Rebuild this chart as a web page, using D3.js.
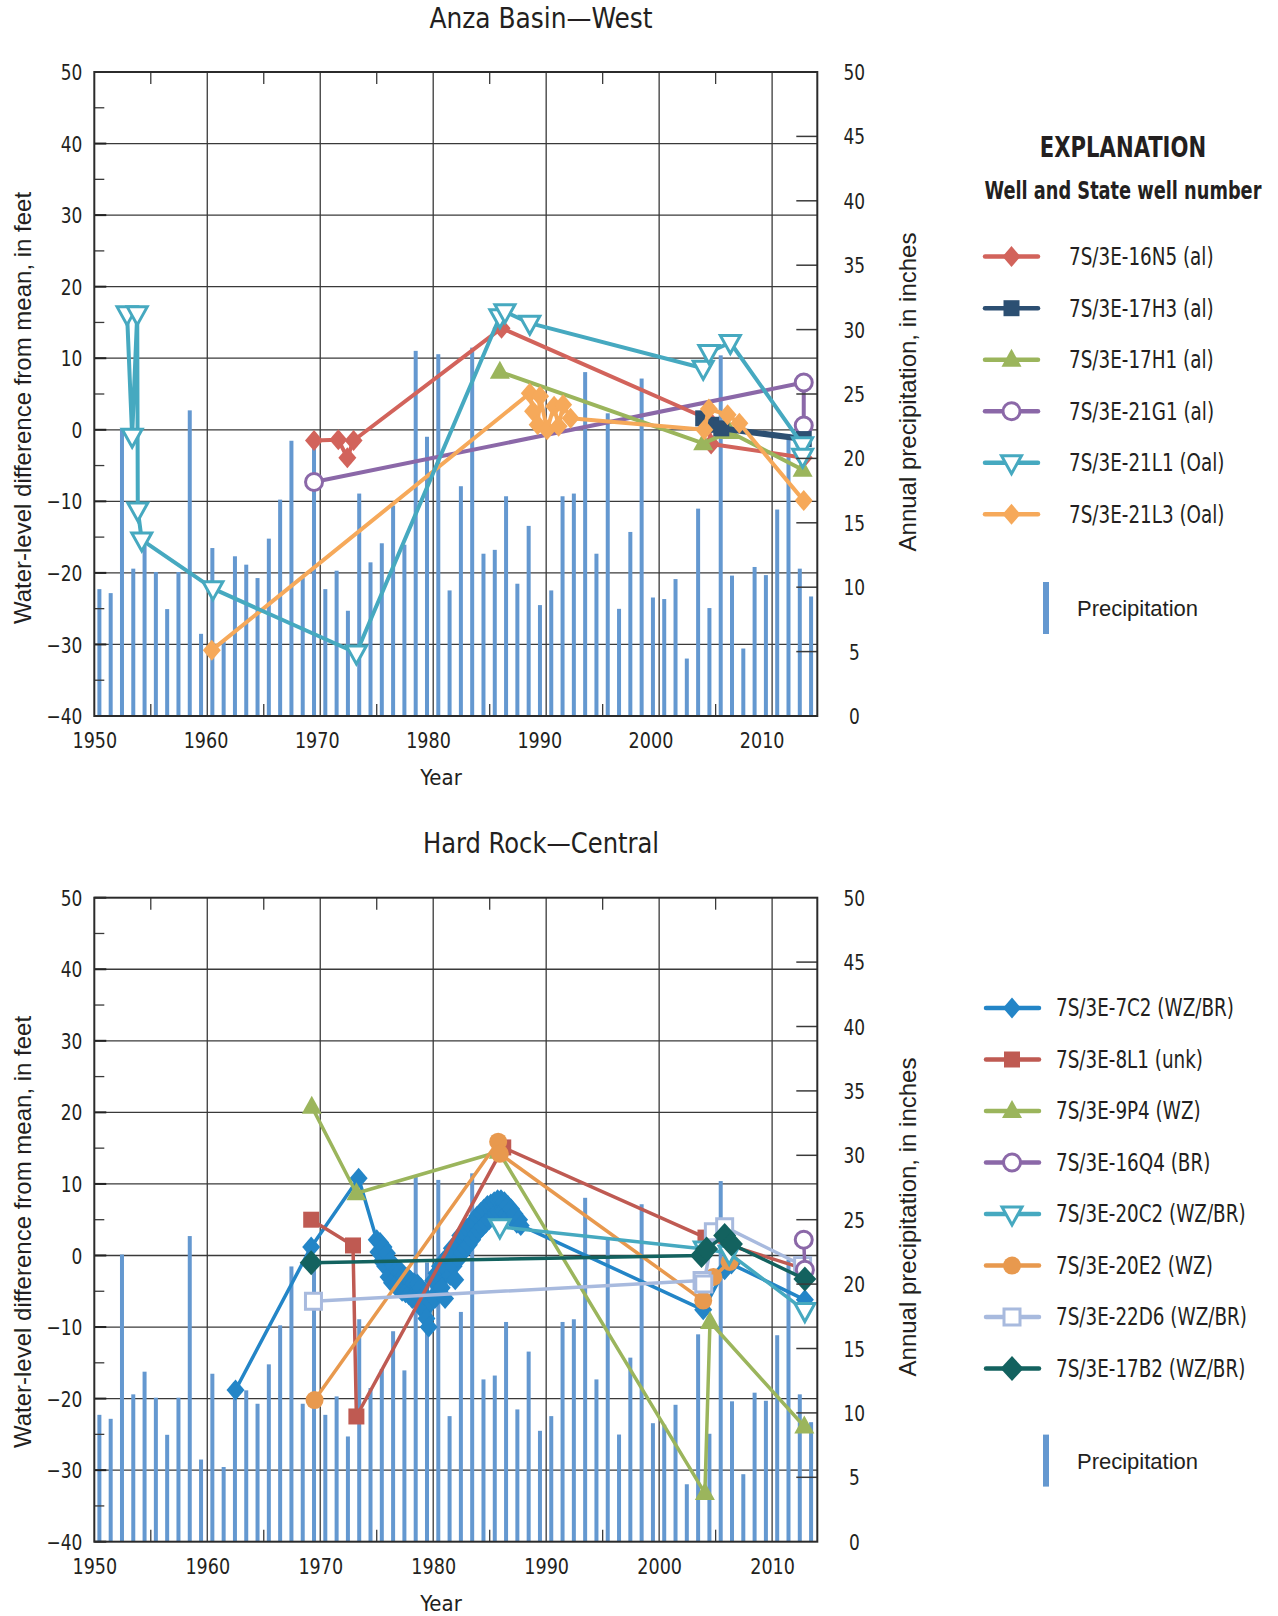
<!DOCTYPE html>
<html><head><meta charset="utf-8">
<script src="https://cdn.jsdelivr.net/npm/d3@7"></script>
<style>
body{margin:0;background:#fff;}
svg{display:block;}
.nar{font-family:'Liberation Sans Narrow','DejaVu Sans Condensed',sans-serif;}
.reg{font-family:'Liberation Sans',Arial,sans-serif;}
</style></head><body>
<svg id="chart" width="1278" height="1616"></svg>
<script>
// ---------------- DATA ----------------
const precipYears = [1950,1951,1952,1953,1954,1955,1956,1957,1958,1959,1960,1961,1962,1963,1964,1965,1966,1967,1968,1969,1970,1971,1972,1973,1974,1975,1976,1977,1978,1979,1980,1981,1982,1983,1984,1985,1986,1987,1988,1989,1990,1991,1992,1993,1994,1995,1996,1997,1998,1999,2000,2001,2002,2003,2004,2005,2006,2007,2008,2009,2010,2011,2012,2013];
const precipInches = [9.85,9.54,22.3,11.44,13.2,11.18,8.3,11.18,23.73,6.38,13.04,5.8,12.4,11.75,10.71,13.77,16.8,21.37,10.71,21.5,9.85,11.28,8.17,17.27,11.93,13.41,16.34,13.3,28.35,21.68,28.09,9.75,17.84,28.6,12.6,12.9,17.06,10.27,14.76,8.61,9.75,17.06,17.27,26.7,12.6,23.5,8.32,14.29,26.2,9.2,9.08,10.63,4.46,16.1,8.38,28.0,10.9,5.24,11.57,10.94,16.03,21.9,11.44,9.28];

const yearTicks = [1950,1960,1970,1980,1990,2000,2010];
const feetTicks = [-40,-30,-20,-10,0,10,20,30,40,50];
const inchTicks = [0,5,10,15,20,25,30,35,40,45,50];

// Anza Basin—West wells [year, feet]
const w16N5 = [[1969.45,-1.5],[1971.6,-1.4],[1972.4,-3.9],[1972.95,-1.5],[1986.05,14.2],[2004.3,1.5],[2004.6,-2.0],[2012.8,-3.9]];
const w17H3 = [[2003.9,1.6],[2004.6,0.7],[2005.5,0.2],[2012.8,-1.3]];
const w17H1 = [[1985.9,8.1],[2003.9,-1.9],[2006.25,-0.3],[2012.7,-5.6]];
const w21G1 = [[1969.45,-7.3],[2012.8,6.6],[2012.8,0.6]];
const w21L1 = [[1952.9,16.2],[1953.35,-0.9],[1953.8,16.2],[1953.85,-11.2],[1954.2,-15.4],[1960.5,-22.2],[1973.2,-31.2],[1985.9,15.8],[1986.35,16.5],[1988.55,14.9],[2003.9,8.6],[2004.4,10.8],[2006.3,12.2],[2012.7,-2.1],[2012.7,-3.7]];
const w21L3 = [[1960.4,-30.8],[1988.55,5.1],[1988.84,2.6],[1989.25,0.7],[1989.46,4.7],[1990.08,0.0],[1990.7,3.3],[1991.1,0.5],[1991.5,3.5],[1992.16,1.6],[2004.0,0.0],[2004.4,2.9],[2006.06,2.1],[2007.1,0.9],[2012.8,-9.9]];

// Hard Rock—Central wells
const w7C2 = [[1962.5,-18.8],[1969.2,1.2],[1973.4,10.8],
 [1975.0,2.2],[1975.15,0.5],[1975.3,1.8],[1975.45,-0.8],[1975.6,1.2],[1975.75,-1.5],[1975.9,0.3],[1976.05,-3.0],[1976.2,-0.8],[1976.35,-3.8],[1976.5,-1.5],[1976.65,-4.2],[1976.8,-2.0],[1976.95,-4.5],[1977.1,-2.2],[1977.25,-5.0],[1977.4,-2.8],[1977.55,-5.2],[1977.7,-3.0],[1977.85,-5.5],[1978.0,-3.5],[1978.15,-6.0],[1978.3,-3.8],[1978.45,-6.2],[1978.6,-4.0],[1978.75,-6.5],[1978.9,-4.5],[1979.05,-7.5],[1979.2,-5.5],[1979.4,-8.8],[1979.6,-10.0],[1979.8,-6.5],[1980.0,-3.5],[1980.15,-6.0],[1980.3,-2.5],[1980.45,-5.0],[1980.6,-1.5],[1980.75,-4.5],[1980.9,-0.8],[1981.05,-6.0],[1981.2,-2.0],[1981.35,0.0],[1981.5,-2.8],[1981.65,1.0],[1981.8,-1.5],[1981.95,-3.4],[1982.1,1.5],[1982.25,-0.5],[1982.4,2.8],[1982.55,0.3],[1982.7,3.2],[1982.85,1.0],[1983.0,3.8],[1983.15,1.5],[1983.3,4.2],[1983.45,2.2],[1983.6,4.8],[1983.75,3.0],[1983.9,5.5],[1984.05,3.5],[1984.2,6.0],[1984.35,4.0],[1984.5,6.5],[1984.65,4.5],[1984.8,7.0],[1984.95,5.0],[1985.1,7.2],[1985.25,5.5],[1985.4,7.5],[1985.55,5.8],[1985.7,7.8],[1985.85,6.0],[1986.0,7.8],[1986.15,6.2],[1986.3,7.5],[1986.45,5.8],[1986.6,7.0],[1986.75,5.5],[1986.9,6.5],[1987.05,5.0],[1987.2,5.8],[1987.4,4.5],[1987.6,5.0],[1987.75,4.2],
 [2003.9,-7.6],[2005.8,-2.0],[2006.4,-1.2],[2012.9,-6.2]];
const w8L1 = [[1969.2,5.0],[1972.9,1.4],[1973.2,-22.5],[1986.2,15.1],[2004.1,2.5],[2012.7,-1.8]];
const w9P4 = [[1969.25,20.8],[1973.2,8.7],[1985.8,14.5],[2004.05,-33.2],[2004.5,-9.3],[2012.85,-23.9]];
const w16Q4 = [[2012.8,2.2],[2012.9,-2.0]];
const w20C2 = [[1985.9,4.0],[2004.0,0.9],[2006.2,0.3],[2012.9,-7.7]];
const w20E2 = [[1969.5,-20.2],[1985.75,15.9],[1985.9,14.2],[2003.9,-6.3],[2004.8,-3.0],[2006.25,-0.9]];
const w22D6 = [[1969.4,-6.4],[2003.8,-3.5],[2003.95,-4.0],[2004.8,3.3],[2005.8,4.0],[2012.7,-1.4]];
const w17B2 = [[1969.2,-1.0],[2003.75,0.0],[2004.2,0.9],[2005.8,2.8],[2006.4,1.6],[2012.9,-3.3]];

const topWells = [
  {name:"7S/3E-16N5 (al)", data:w16N5, color:"#d2635b", mk:"diamond", lw:4},
  {name:"7S/3E-17H3 (al)", data:w17H3, color:"#2c4f72", mk:"square", lw:6},
  {name:"7S/3E-17H1 (al)", data:w17H1, color:"#9bb55c", mk:"triUp", lw:4},
  {name:"7S/3E-21G1 (al)", data:w21G1, color:"#8b68a8", mk:"circleOpen", lw:4},
  {name:"7S/3E-21L1 (Oal)", data:w21L1, color:"#46a9c0", mk:"triDown", lw:4},
  {name:"7S/3E-21L3 (Oal)", data:w21L3, color:"#f6a95a", mk:"diamond", lw:4}
];
const topDrawOrder = [3,0,2,1,5,4];

const botWells = [
  {name:"7S/3E-7C2 (WZ/BR)", data:w7C2, color:"#2385c7", mk:"diamond", lw:3.5},
  {name:"7S/3E-8L1 (unk)", data:w8L1, color:"#bf5a52", mk:"square", lw:3.5},
  {name:"7S/3E-9P4 (WZ)", data:w9P4, color:"#9bb55c", mk:"triUp", lw:3.5},
  {name:"7S/3E-16Q4 (BR)", data:w16Q4, color:"#8b68a8", mk:"circleOpen", lw:3.5},
  {name:"7S/3E-20C2 (WZ/BR)", data:w20C2, color:"#46a9c0", mk:"triDown", lw:3.5},
  {name:"7S/3E-20E2 (WZ)", data:w20E2, color:"#e8994e", mk:"circle", lw:3.5},
  {name:"7S/3E-22D6 (WZ/BR)", data:w22D6, color:"#a8bade", mk:"squareOpen", lw:3.5},
  {name:"7S/3E-17B2 (WZ/BR)", data:w17B2, color:"#13625f", mk:"diamondBig", lw:3.5}
];
const botDrawOrder = [0,2,1,5,4,6,3,7];

// ---------------- DRAWING ----------------
const svg = d3.select("#chart");
const BAR = "#6498d0";
const INK = "#231f20";
const fmt = d => d < 0 ? "\u2212" + (-d) : String(d);

// squeeze text horizontally (about its anchor x) to imitate the condensed face of the original
function condense(sel, f){
  sel.each(function(){
    const x0 = +(this.getAttribute("x") || 0);
    const y0 = +(this.getAttribute("y") || 0);
    const prev = this.getAttribute("transform") || "";
    this.setAttribute("transform", `${prev} translate(${x0},${y0}) scale(${f},1) translate(${-x0},${-y0})`.trim());
  });
}

function markerPath(t){
  switch(t){
    case "diamond": return "M0,-10.5L9,0L0,10.5L-9,0Z";
    case "diamondBig": return "M0,-12.5L11.5,0L0,12.5L-11.5,0Z";
    case "square": case "squareOpen": return "M-8,-8H8V8H-8Z";
    case "triUp": return "M0,-11L10,7L-10,7Z";
    case "triDown": return "M0,11L10,-7L-10,-7Z";
  }
  return null;
}
function drawMarker(g, t, color, x, y){
  if (t === "circle" || t === "circleOpen"){
    g.append("circle").attr("cx",x).attr("cy",y).attr("r", t==="circle"?9:8.5)
      .attr("fill", t==="circle"?color:"#fff").attr("stroke",color).attr("stroke-width", t==="circle"?0:3);
  } else {
    const open = (t==="triDown"||t==="squareOpen");
    g.append("path").attr("d", markerPath(t)).attr("transform",`translate(${x},${y})`)
      .attr("fill", open?"#fff":color).attr("stroke", open?color:"none").attr("stroke-width", open?3:0);
  }
}

function panel(top, bottom, title, titleY, titleF, wells, order, yTitleY, rTitleY, labelEnd){
  const left = 94.3, right = 817.3;
  const x = d3.scaleLinear().domain([1950,2014]).range([left,right]);
  const xl = d3.scaleLinear().domain([1950,labelEnd]).range([left,right]); // label placement as printed
  const y = d3.scaleLinear().domain([-40,50]).range([bottom,top]);
  const yp = d3.scaleLinear().domain([0,50]).range([bottom,top]);
  const g = svg.append("g");

  condense(g.append("text").attr("class","nar").attr("x",541).attr("y",titleY).attr("text-anchor","middle")
    .attr("font-size",29).attr("fill",INK).text(title), titleF);

  // grid
  g.append("g").selectAll("line").data(feetTicks.filter(d=>d>-40&&d<50)).join("line")
    .attr("x1",left).attr("x2",right).attr("y1",d=>y(d)).attr("y2",d=>y(d))
    .attr("stroke","#3a3a3a").attr("stroke-width",1.3);
  g.append("g").selectAll("line").data(yearTicks.filter(d=>d>1950)).join("line")
    .attr("y1",top).attr("y2",bottom).attr("x1",d=>x(d)).attr("x2",d=>x(d))
    .attr("stroke","#3a3a3a").attr("stroke-width",1.3);

  // bars
  g.append("g").selectAll("rect").data(precipYears).join("rect")
    .attr("x",(d)=>x(d+0.45)-2).attr("width",4)
    .attr("y",(d,i)=>yp(precipInches[i])).attr("height",(d,i)=>bottom-yp(precipInches[i]))
    .attr("fill",BAR);

  // ticks
  const minorY = [-35,-25,-15,-5,5,15,25,35,45];
  g.append("g").selectAll("line").data(minorY).join("line")
    .attr("x1",left).attr("x2",left+10).attr("y1",d=>y(d)).attr("y2",d=>y(d)).attr("stroke","#3a3a3a").attr("stroke-width",1.3);
  g.append("g").selectAll("line").data(feetTicks).join("line")
    .attr("x1",left).attr("x2",left+12).attr("y1",d=>y(d)).attr("y2",d=>y(d)).attr("stroke","#222").attr("stroke-width",2);
  const minorX = [1955,1965,1975,1985,1995,2005];
  g.append("g").selectAll("line").data(minorX).join("line")
    .attr("x1",d=>x(d)).attr("x2",d=>x(d)).attr("y1",top).attr("y2",top+12).attr("stroke","#3a3a3a").attr("stroke-width",1.3);
  g.append("g").selectAll("line").data(minorX).join("line")
    .attr("x1",d=>x(d)).attr("x2",d=>x(d)).attr("y1",bottom).attr("y2",bottom-12).attr("stroke","#3a3a3a").attr("stroke-width",1.3);

  // data
  const line = d3.line().x(d=>x(d[0])).y(d=>y(d[1]));
  const dg = g.append("g");
  order.forEach(i=>{
    const w = wells[i];
    dg.append("path").attr("d",line(w.data)).attr("fill","none").attr("stroke",w.color)
      .attr("stroke-width",w.lw).attr("stroke-linejoin","round");
    w.data.forEach(p=>drawMarker(dg, w.mk, w.color, x(p[0]), y(p[1])));
  });

  // right axis (precipitation)
  const ra = d3.axisRight(yp).tickValues(inchTicks).tickSize(0).tickFormat(d=>d);
  const rg = g.append("g").attr("transform",`translate(${right},0)`).call(ra);
  rg.select(".domain").remove();
  rg.selectAll("text").attr("class","nar").attr("font-family",null).attr("x",37).attr("text-anchor","middle").attr("dy","0.36em")
    .attr("font-size",21).attr("fill",INK);
  condense(rg.selectAll("text"), 0.9);
  g.append("g").selectAll("line").data(inchTicks.filter(d=>d>0&&d<50)).join("line")
    .attr("x1",right-21).attr("x2",right).attr("y1",d=>yp(d)).attr("y2",d=>yp(d)).attr("stroke","#3a3a3a").attr("stroke-width",1.5);

  // frame
  g.append("rect").attr("x",left).attr("y",top).attr("width",right-left).attr("height",bottom-top)
    .attr("fill","none").attr("stroke","#2b2b2b").attr("stroke-width",2);

  // left axis labels
  const la = d3.axisLeft(y).tickValues(feetTicks).tickSize(0).tickPadding(12).tickFormat(fmt);
  const lg = g.append("g").attr("transform",`translate(${left},0)`).call(la);
  lg.select(".domain").remove();
  lg.selectAll("text").attr("class","nar").attr("font-family",null).attr("font-size",21).attr("fill",INK).attr("dy","0.36em");
  condense(lg.selectAll("text"), 0.9);

  // bottom axis labels
  const ba = d3.axisBottom(xl).tickValues(yearTicks).tickSize(0).tickPadding(17).tickFormat(d=>d);
  const bg = g.append("g").attr("transform",`translate(0,${bottom})`).call(ba);
  bg.select(".domain").remove();
  bg.selectAll("text").attr("class","nar").attr("font-family",null).attr("font-size",21).attr("fill",INK);
  condense(bg.selectAll("text"), 0.93);

  // axis titles
  g.append("text").attr("class","nar").attr("x",441).attr("y",bottom+69).attr("text-anchor","middle")
    .attr("font-size",22).attr("fill",INK).text("Year");
  g.append("text").attr("class","reg").attr("transform",`translate(31,${yTitleY}) rotate(-90)`).attr("text-anchor","middle")
    .attr("font-size",24).attr("fill",INK).text("Water-level difference from mean, in feet");
  g.append("text").attr("class","reg").attr("transform",`translate(916,${rTitleY}) rotate(-90)`).attr("text-anchor","middle")
    .attr("font-size",24).attr("fill",INK).text("Annual precipitation, in inches");
}

panel(72, 716, "Anza Basin\u2014West", 28, 0.955, topWells, topDrawOrder, 408, 392, 2015);
panel(897.7, 1541.7, "Hard Rock\u2014Central", 853, 0.93, botWells, botDrawOrder, 1232, 1217, 2014);

// ---------------- LEGENDS ----------------
function legend(wells, ys, x1, x2, mx, tx, barY, heading){
  const g = svg.append("g");
  if (heading){
    condense(g.append("text").attr("class","nar").attr("x",1123).attr("y",157).attr("text-anchor","middle")
      .attr("font-size",28).attr("font-weight","bold").attr("fill",INK).text("EXPLANATION"), 0.84);
    condense(g.append("text").attr("class","nar").attr("x",1123).attr("y",199).attr("text-anchor","middle")
      .attr("font-size",25).attr("font-weight","bold").attr("fill",INK).text("Well and State well number"), 0.79);
  }
  wells.forEach((w,i)=>{
    const yy = ys[i];
    g.append("line").attr("x1",x1).attr("x2",x2).attr("y1",yy).attr("y2",yy)
      .attr("stroke",w.color).attr("stroke-width",4.5).attr("stroke-linecap","round");
    drawMarker(g, w.mk, w.color, mx, yy);
    condense(g.append("text").attr("class","nar").attr("x",tx).attr("y",yy+8.5).attr("font-size",24)
      .attr("fill",INK).text(w.name), 0.85);
  });
  g.append("rect").attr("x",1043).attr("y",barY).attr("width",6).attr("height",52).attr("fill",BAR);
  g.append("text").attr("class","reg").attr("x",1077).attr("y",barY+34).attr("font-size",22)
    .attr("fill",INK).text("Precipitation");
}
legend(topWells, [256.6,308.2,359.7,411.2,462.7,514.3], 985, 1038, 1011.5, 1069, 582, true);
legend(botWells, [1008,1059.5,1111,1162.5,1214,1265.6,1317,1368.6], 986, 1039, 1012, 1056, 1434.6, false);
</script>
</body></html>
